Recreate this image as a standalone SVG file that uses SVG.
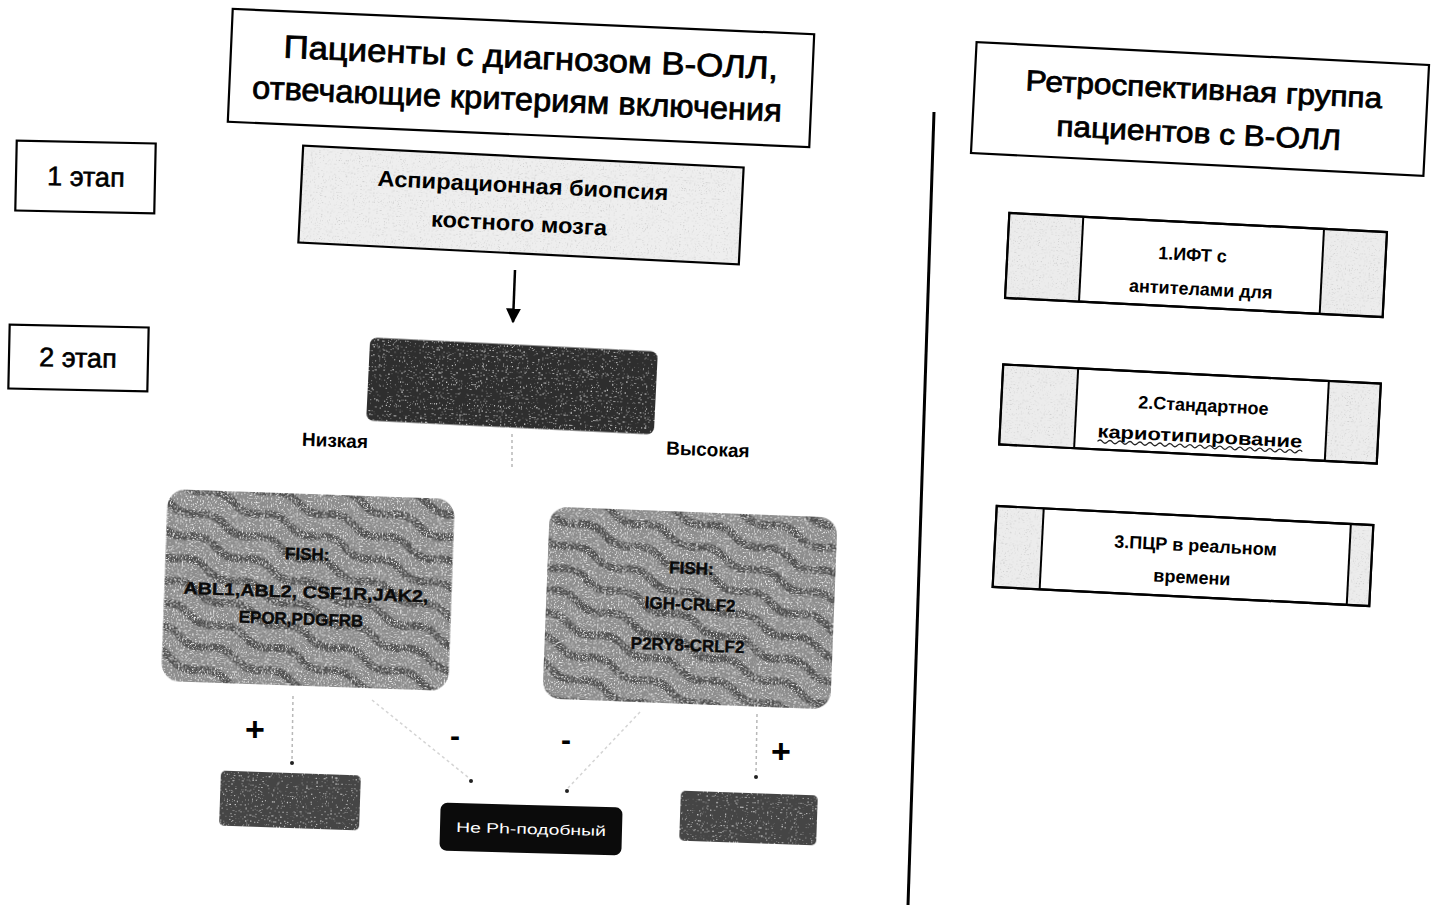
<svg xmlns="http://www.w3.org/2000/svg" width="1436" height="905" viewBox="0 0 1436 905">
<style>
.t{font-family:"Liberation Sans",Arial,sans-serif;fill:#000;text-anchor:middle}
.ttl{font-size:32px;stroke:#000;stroke-width:0.8}
.b{font-weight:bold}
.fish{font-size:17px;font-weight:bold;fill:#0a0a0a;stroke:#0a0a0a;stroke-width:0.4}
.box{fill:#fff;stroke:#000;stroke-width:2.2}
.ol{fill:none;stroke:#000;stroke-width:2.2}
.light{fill:#eeeeee}
.side{fill:#ececec}
.faint{stroke:#b8b8b8;stroke-width:1.5;fill:none;stroke-dasharray:3 3}
</style>
<defs>
<filter id="fl" x="0" y="0" width="100%" height="100%">
<feTurbulence type="fractalNoise" baseFrequency="0.75" numOctaves="2" seed="2"/>
<feColorMatrix type="matrix" values="0 0 0 0 0.6 0 0 0 0 0.6 0 0 0 0 0.6 5 0 0 0 -3"/>
<feComposite in2="SourceGraphic" operator="in" result="sp"/>
<feMerge><feMergeNode in="SourceGraphic"/><feMergeNode in="sp"/></feMerge>
</filter>
<filter id="fd" x="0" y="0" width="100%" height="100%">
<feTurbulence type="fractalNoise" baseFrequency="0.8" numOctaves="2" seed="5"/>
<feColorMatrix type="matrix" values="0 0 0 0 0.8 0 0 0 0 0.8 0 0 0 0 0.8 5 0 0 0 -3.3"/>
<feComposite in2="SourceGraphic" operator="in" result="sp"/>
<feMerge><feMergeNode in="SourceGraphic"/><feMergeNode in="sp"/></feMerge>
</filter>
<filter id="fm" x="0" y="0" width="100%" height="100%">
<feTurbulence type="fractalNoise" baseFrequency="0.7" numOctaves="2" seed="9" result="n"/>
<feColorMatrix in="n" type="matrix" values="0 0 0 0 0.9 0 0 0 0 0.9 0 0 0 0 0.9 5 0 0 0 -2.8" result="w"/>
<feColorMatrix in="n" type="matrix" values="0 0 0 0 0.25 0 0 0 0 0.25 0 0 0 0 0.25 -5 0 0 0 2.2" result="k"/>
<feMerge result="m"><feMergeNode in="w"/><feMergeNode in="k"/></feMerge>
<feComposite in="m" in2="SourceGraphic" operator="in" result="sp"/>
<feMerge><feMergeNode in="SourceGraphic"/><feMergeNode in="sp"/></feMerge>
</filter>
<pattern id="waves" patternUnits="userSpaceOnUse" width="60" height="24" patternTransform="rotate(20)">
<rect width="60" height="24" fill="#8e8e8e"/>
<path d="M0 12 Q15 4 30 12 T60 12" stroke="#505050" stroke-width="8" fill="none"/>
</pattern>
<marker id="ah" viewBox="0 0 10 10" refX="9" refY="5" markerWidth="6" markerHeight="6" orient="auto">
<path d="M0 0 L10 5 L0 10 Z" fill="#000"/>
</marker>
</defs>

<g id="connectors">
<line x1="934" y1="112" x2="908" y2="905" stroke="#000" stroke-width="3"/>
<line x1="515" y1="270" x2="513" y2="322" stroke="#000" stroke-width="2.5" marker-end="url(#ah)"/>
<line x1="512" y1="434" x2="512" y2="468" class="faint"/>
<line x1="293" y1="696" x2="292" y2="760" class="faint" stroke="#999"/>
<circle cx="292" cy="763" r="2" fill="#222"/>
<line x1="372" y1="700" x2="469" y2="778" class="faint" style="stroke:#d4d4d4"/>
<circle cx="471" cy="781" r="2" fill="#222"/>
<line x1="640" y1="712" x2="568" y2="788" class="faint" style="stroke:#d4d4d4"/>
<circle cx="567" cy="791" r="2" fill="#222"/>
<line x1="757" y1="714" x2="756" y2="774" class="faint" stroke="#999"/>
<circle cx="756" cy="777" r="2" fill="#222"/>
</g>

<g id="n_title_left" transform="rotate(2.5 521 78)">
<rect class="box" x="230" y="21.5" width="582" height="113"/>
<text class="t ttl" x="530" y="68" textLength="495" lengthAdjust="spacingAndGlyphs">Пациенты с диагнозом  В-ОЛЛ,</text>
<text class="t ttl" x="518" y="110" textLength="530" lengthAdjust="spacingAndGlyphs">отвечающие критериям включения</text>
</g>

<g id="n_title_right" transform="rotate(2.9 1200 109)">
<rect class="box" x="973.5" y="53.5" width="453" height="111"/>
<text class="t ttl" x="1203" y="99" textLength="357" lengthAdjust="spacingAndGlyphs" style="font-size:29px">Ретроспективная группа</text>
<text class="t ttl" x="1200" y="143" textLength="285" lengthAdjust="spacingAndGlyphs" style="font-size:29px">пациентов с В-ОЛЛ</text>
</g>

<g id="n_stage1" transform="rotate(1.2 86 177)">
<rect class="box" x="16" y="142" width="139" height="70"/>
<text class="t" x="86" y="186" style="font-size:27px;stroke:#000;stroke-width:0.6">1 этап</text>
</g>

<g id="n_stage2" transform="rotate(1.2 78 358)">
<rect class="box" x="9" y="326" width="139" height="64"/>
<text class="t" x="78" y="367" style="font-size:27px;stroke:#000;stroke-width:0.6">2 этап</text>
</g>

<g id="n_aspiration" transform="rotate(2.85 521 205)">
<rect class="light" x="300.5" y="156.5" width="441" height="97" filter="url(#fl)"/>
<rect class="ol" x="300.5" y="156.5" width="441" height="97"/>
<text class="t b" x="522" y="193" style="font-size:22px" textLength="291" lengthAdjust="spacingAndGlyphs">Аспирационная биопсия</text>
<text class="t b" x="520" y="231" style="font-size:22px" textLength="176" lengthAdjust="spacingAndGlyphs">костного мозга</text>
</g>

<g id="n_mrd" transform="rotate(2.8 512 386)">
<rect x="368" y="344.5" width="288" height="83" rx="7" fill="#2f2f2f" filter="url(#fd)"/>
</g>

<g id="n_low" transform="rotate(2 335 440)">
<text class="t b" x="335" y="447" style="font-size:19px">Низкая</text>
</g>
<g id="n_high" transform="rotate(2 708 449)">
<text class="t b" x="708" y="456" style="font-size:19px">Высокая</text>
</g>

<g id="n_fish_left" transform="rotate(2 308 590)">
<rect x="164.5" y="494" width="287" height="192" rx="18" fill="url(#waves)" filter="url(#fm)"/>
<text class="t fish" x="306" y="560">FISH:</text>
<text class="t fish" x="306" y="598" textLength="245" lengthAdjust="spacingAndGlyphs">ABL1,ABL2, CSF1R,JAK2,</text>
<text class="t fish" x="302" y="625">EPOR,PDGFRB</text>
</g>

<g id="n_fish_right" transform="rotate(2.2 690 608)">
<rect x="546" y="512" width="288" height="192" rx="18" fill="url(#waves)" filter="url(#fm)"/>
<text class="t fish" x="690" y="574">FISH:</text>
<text class="t fish" x="690" y="610">IGH-CRLF2</text>
<text class="t fish" x="689" y="651">P2RY8-CRLF2</text>
</g>

<g id="n_plus_left"><text class="t b" x="255" y="741" style="font-size:34px">+</text></g>
<g id="n_minus_left"><text class="t b" x="455" y="746" style="font-size:30px">-</text></g>
<g id="n_minus_right"><text class="t b" x="566" y="750" style="font-size:30px">-</text></g>
<g id="n_plus_right"><text class="t b" x="781" y="763" style="font-size:34px">+</text></g>

<g id="n_res_left" transform="rotate(2 290 800)">
<rect x="220" y="773" width="140" height="55" rx="5" fill="#444" filter="url(#fd)"/>
</g>

<g id="n_not_ph" transform="rotate(1.5 531 829)">
<rect x="440" y="805" width="182" height="48" rx="7" fill="#0b0b0b"/>
<text class="t" x="531" y="834" style="font-size:14px;fill:#fff" textLength="150" lengthAdjust="spacingAndGlyphs">Не Ph-подобный</text>
</g>

<g id="n_res_right" transform="rotate(2 748 818)">
<rect x="680" y="793" width="137" height="50" rx="5" fill="#444" filter="url(#fd)"/>
</g>

<g id="n_ift" transform="rotate(2.9 1196 265)">
<rect class="box" x="1007" y="222.5" width="378" height="85"/>
<rect class="side" x="1008" y="223.5" width="73" height="83" filter="url(#fl)"/>
<rect class="side" x="1322" y="223.5" width="62" height="83" filter="url(#fl)"/>
<rect class="ol" x="1007" y="222.5" width="378" height="85"/>
<line x1="1081" y1="222.5" x2="1081" y2="307.5" stroke="#000" stroke-width="2"/>
<line x1="1322" y1="222.5" x2="1322" y2="307.5" stroke="#000" stroke-width="2"/>
<text class="t b" x="1192" y="261" style="font-size:18px">1.ИФТ с</text>
<text class="t b" x="1202" y="295" style="font-size:18px">антителами для</text>
</g>

<g id="n_karyo" transform="rotate(2.9 1190 414)">
<rect class="box" x="1001" y="374" width="378" height="80"/>
<rect class="side" x="1002" y="375" width="74" height="78" filter="url(#fl)"/>
<rect class="side" x="1327" y="375" width="51" height="78" filter="url(#fl)"/>
<rect class="ol" x="1001" y="374" width="378" height="80"/>
<line x1="1076" y1="374" x2="1076" y2="454" stroke="#000" stroke-width="2"/>
<line x1="1327" y1="374" x2="1327" y2="454" stroke="#000" stroke-width="2"/>
<text class="t b" x="1203" y="411" style="font-size:18px">2.Стандартное</text>
<text class="t b" x="1201" y="442" style="font-size:18px" textLength="205" lengthAdjust="spacingAndGlyphs">кариотипирование</text>
<path d="M1099 446 q2.5 -3 5 0 t5 0 t5 0 t5 0 t5 0 t5 0 t5 0 t5 0 t5 0 t5 0 t5 0 t5 0 t5 0 t5 0 t5 0 t5 0 t5 0 t5 0 t5 0 t5 0 t5 0 t5 0 t5 0 t5 0 t5 0 t5 0 t5 0 t5 0 t5 0 t5 0 t5 0 t5 0 t5 0 t5 0 t5 0 t5 0 t5 0 t5 0 t5 0 t5 0 t5 0" fill="none" stroke="#222" stroke-width="1.3"/>
</g>

<g id="n_pcr" transform="rotate(2.9 1183 556)">
<rect class="box" x="994.5" y="515.5" width="377" height="81"/>
<rect class="side" x="995.5" y="516.5" width="46" height="79" filter="url(#fl)"/>
<rect class="side" x="1349" y="516.5" width="21.5" height="79" filter="url(#fl)"/>
<rect class="ol" x="994.5" y="515.5" width="377" height="81"/>
<line x1="1041.5" y1="515.5" x2="1041.5" y2="596.5" stroke="#000" stroke-width="2"/>
<line x1="1349" y1="515.5" x2="1349" y2="596.5" stroke="#000" stroke-width="2"/>
<text class="t b" x="1195" y="551" style="font-size:18px">3.ПЦР в реальном</text>
<text class="t b" x="1193" y="583" style="font-size:18px">времени</text>
</g>
</svg>
